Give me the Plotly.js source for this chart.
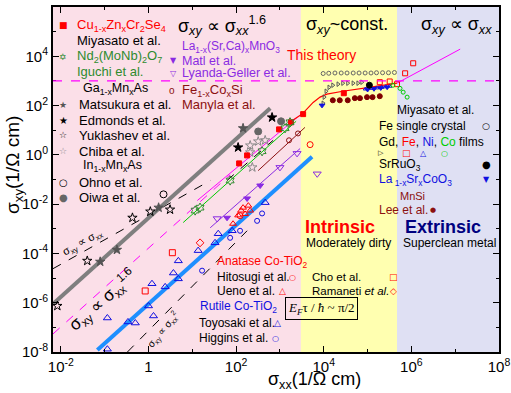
<!DOCTYPE html>
<html><head><meta charset="utf-8">
<script src="https://cdn.plot.ly/plotly-3.0.1.min.js"></script>
<style>html,body{margin:0;padding:0;background:#fff}#chart{width:511px;height:393px}</style>
</head><body><div id="chart"></div>
<script>
// ---------- axis ticks ----------
var xTickVals = [1e-2, 1, 1e2, 1e4, 1e6, 1e8];
var xTickText = ['10<sup>-2</sup>', '1', '10<sup>2</sup>', '10<sup>4</sup>', '10<sup>6</sup>', '10<sup>8</sup>'];
var yTickVals = [1e-8, 1e-6, 1e-4, 1e-2, 1, 1e2, 1e4, 1e6];
var yTickText = ['10<sup>-8</sup>', '10<sup>-6</sup>', '10<sup>-4</sup>', '10<sup>-2</sup>', '10<sup>0</sup>', '10<sup>2</sup>', '10<sup>4</sup>', '10<sup>6</sup>'];

// ---------- regime boundaries (sigma_xx) and sigma_xy guide ----------
var regimeBounds = [3.0e3, 4.7e5];
var constLevel = 1.0e3;

// ---------- data: Ga1-xMnxAs / In1-xMnxAs ----------
var yuklashevX = [8.3e-3, 0.04, 0.43, 1.1, 3.1];
var yuklashevY = [7.4e-7, 5.0e-5, 2.8e-3, 5.0e-3, 6.0e-3];
var matsukuraX = [0.079, 0.19, 1.7, 144];
var matsukuraY = [4.6e-5, 1.4e-4, 7.2e-3, 12];
var edmondsX = [661, 111];
var edmondsY = [33, 2.0];
var chibaX = [209, 319, 460, 209, 234];
var chibaY = [2.4, 3.5, 3.9, 1.26, 0.31];
var ohnoX = [2.2];
var ohnoY = [0.025];
var oiwaX = [319, 1060];
var oiwaY = [8.9, 23];

// ---------- Cu1-xZnxCr2Se4 ----------
var cuX = [117, 178, 955, 1790, 3380, 28700];
var cuY = [0.45, 0.95, 10.8, 21, 45, 317];
// ---------- Nd2(MoNb)2O7 ----------
var ndX = [11.6, 15, 73, 391, 1310, 1700];
var ndY = [0.0055, 0.0072, 0.091, 1.4, 12, 21];
// ---------- La1-x(Sr,Ca)xMnO3 ----------
var matlX = [62, 178, 354];
var matlY = [0.0028, 0.017, 0.057];
var lyandaX = [37, 1000, 2460, 7090];
var lyandaY = [0.0026, 0.31, 1.15, 0.17];
// ---------- Fe1-xCoxSi ----------
var fecosiX = [1610, 2580];
var fecosiY = [3.9, 7.4];
// ---------- Anatase / Rutile Co-TiO2 ----------
var hitosugiX = [123, 4880];
var hitosugiY = [0.0034, 2.6];
var uenoX = [85, 111, 130, 144, 160, 190, 209];
var uenoY = [0.0016, 0.0035, 0.0055, 0.0072, 0.004, 0.0087, 0.0055];
var choX = [0.84, 3.5];
var choY = [3.0e-6, 1.07e-4];
var ramanetiX = [15];
var ramanetiY = [2.7e-4];
var toyosakiX = [0.115, 0.115, 0.34, 0.5, 1, 1.3, 1.2, 2.4, 3.7, 4.8, 4.8, 13.6, 33, 39, 81, 460];
var toyosakiY = [2.4e-7, 1.3e-8, 1.66e-7, 1.5e-7, 7.4e-7, 2.9e-7, 5.9e-6, 4.4e-6, 1.6e-5, 5e-5, 9.3e-6, 1.3e-4, 2.7e-4, 6.3e-4, 8.3e-4, 0.0115];
var higginsX = [16.7, 73, 123, 301, 391];
var higginsY = [2.0e-5, 4.3e-4, 8.3e-4, 0.0021, 0.0042];
// ---------- clean metals ----------
var gdX = [9660, 10200, 11300, 13200, 16100, 21200, 27200, 35300, 46800, 60300, 74000];
var gdY = [124, 220, 380, 550, 670, 740, 810, 810, 810, 810, 890];
var feCrystalX = [9700, 1.3e4, 1.8e4, 2.5e4, 3.4e4, 4.7e4, 6.4e4, 8.8e4, 1.2e5, 1.6e5, 2.2e5, 3.0e5, 4.1e5];
var feCrystalY = [2000, 2050, 2100, 2100, 2100, 2100, 2100, 2100, 2100, 2150, 2150, 2150, 2200];
var feFilmX = [1.9e5, 3.2e5, 4.7e5, 7.2e5, 1.1e6];
var feFilmY = [890, 950, 740, 2040, 5200];
var niFilmX = [9.0e4, 1.2e5, 1.6e5, 2.1e5, 2.6e5, 3.2e5];
var niFilmY = [470, 500, 520, 550, 580, 610];
var coFilmX = [3.8e5, 5.5e5, 6.5e5, 8.0e5];
var coFilmY = [670, 500, 350, 220];
var srruoX = [1.1e5];
var srruoY = [670];
var lscoX = [9130, 1.0e5, 1.4e5, 2.0e5, 2.8e5];
var lscoY = [102, 450, 480, 520, 560];
var mnsiX = [16100, 23200, 35300, 51200, 67000, 97000, 1.3e5, 1.9e5];
var mnsiY = [164, 164, 164, 200, 200, 220, 220, 240];

// ---------- fitted / theory lines (endpoints) ----------
var grayFitX = [6.6e-3, 600];    var grayFitY = [8.9e-7, 78];
var blueFitX = [0.068, 5400];    var blueFitY = [1.2e-8, 0.83];
var greenFitX = [6.2, 2340];     var greenFitY = [1.8e-3, 23];
var magFitX = [13, 2460];        var magFitY = [0.014, 33];
var brownFitX = [319, 3720];     var brownFitY = [0.23, 13];
var purpleFitX = [25.6, 2880];   var purpleFitY = [0.0011, 1.8];
var theoryX = [1540, 3210, 5720, 8250, 11800, 27200, 1.1e5, 4.7e5];
var theoryY = [19, 45, 134, 220, 290, 380, 550, 810];
var cleanFitX = [4.7e5, 1.3e7];  var cleanFitY = [810, 1.95e4];
var dashLin1X = [6.6e-3, 25.6];  var dashLin1Y = [2.4e-5, 0.09];
var dashLin2X = [62, 700];       var dashLin2Y = [0.091, 3.9];
var dashSqX = [0.33, 178];       var dashSqY = [1e-8, 8.3e-4];
var dashMag1X = [6.6e-3, 73];    var dashMag1Y = [5.4e-8, 0.155];

var FONT = 'Liberation Sans, Arial, sans-serif';
var PURPLE = '#8a2be2', BROWN = '#8b1010', RED = '#ff0000', GREEN = '#2e8b2e', BLUE = '#1010e0';

function pts(x, y, sym, color, size, lw) {
  return {x: x, y: y, mode: 'markers', type: 'scatter', hoverinfo: 'skip',
    marker: {symbol: sym, color: color, size: size || 5, line: {color: color, width: lw === undefined ? 1 : lw}}};
}
function ln(x, y, color, width, dash) {
  return {x: x, y: y, mode: 'lines', type: 'scatter', hoverinfo: 'skip',
    line: {color: color, width: width, dash: dash || 'solid'}};
}

var traces = [
  ln(dashMag1X, dashMag1Y, '#ff00ff', 1, 'dash'),
  ln(dashLin1X, dashLin1Y, '#000', 1, 'dash'),
  ln(dashLin2X, dashLin2Y, '#000', 1, 'dash'),
  ln(dashSqX, dashSqY, '#000', 1, 'dash'),
  ln(grayFitX, grayFitY, '#7f7f7f', 4),
  ln(blueFitX, blueFitY, '#1e8fff', 4),
  ln(greenFitX, greenFitY, '#00cc00', 1),
  ln(magFitX, magFitY, '#ff00ff', 1),
  ln(brownFitX, brownFitY, BROWN, 1),
  ln(purpleFitX, purpleFitY, PURPLE, 1),
  ln(theoryX, theoryY, RED, 1.2),
  ln(cleanFitX, cleanFitY, '#ff00ff', 1),
  pts(yuklashevX, yuklashevY, 'star-open', '#000', 7),
  pts(matsukuraX, matsukuraY, 'star', '#555', 7),
  pts(edmondsX, edmondsY, 'star', '#000', 7),
  pts(chibaX, chibaY, 'star-open', '#888', 7),
  pts(ohnoX, ohnoY, 'circle-open', '#000', 7),
  pts(oiwaX, oiwaY, 'circle', '#666', 7),
  pts(cuX, cuY, 'square', RED, 5),
  pts(ndX, ndY, 'hexagram-open', GREEN, 7),
  pts(matlX, matlY, 'triangle-down', PURPLE, 6),
  pts(lyandaX, lyandaY, 'triangle-down-open', PURPLE, 7),
  pts(fecosiX, fecosiY, 'circle-open', BROWN, 5),
  pts(hitosugiX, hitosugiY, 'circle-open', RED, 6),
  pts(uenoX, uenoY, 'triangle-up-open', RED, 6),
  pts(choX, choY, 'square-open', RED, 6),
  pts(ramanetiX, ramanetiY, 'diamond-open', RED, 6),
  pts(toyosakiX, toyosakiY, 'triangle-up-open', BLUE, 7),
  pts(higginsX, higginsY, 'circle-open', BLUE, 5),
  pts(feCrystalX, feCrystalY, 'circle-open', '#666', 4),
  pts(gdX, gdY, 'triangle-right-open', '#555', 4),
  pts(niFilmX, niFilmY, 'triangle-up-open', BLUE, 4),
  pts(lscoX, lscoY, 'triangle-down', BLUE, 5),
  pts(feFilmX, feFilmY, 'square-open', RED, 5),
  pts(coFilmX, coFilmY, 'circle-open', '#00cc00', 4),
  pts(srruoX, srruoY, 'circle', '#000', 6),
  pts(mnsiX, mnsiY, 'circle', '#800000', 5)
];

function px2x(px) { return (px - 53) / 446; }
function py2y(py) { return (352 - py) / 345; }
function txt(px, py, text, opts) {
  opts = opts || {};
  return {xref: 'paper', yref: 'paper', x: px2x(px), y: py2y(py), text: text, showarrow: false,
    xanchor: opts.xa || 'left', yanchor: 'middle', textangle: opts.ang || 0,
    font: {family: opts.fam || FONT, size: opts.size || 13, color: opts.color || '#000'}};
}
var S = 'σ';
var ann = [
  // headers
  txt(222, 26, S + '<sub><i>xy</i></sub> ∝ ' + S + '<sub><i>xx</i></sub><sup>1.6</sup>', {xa: 'center', size: 18}),
  txt(347, 26, S + '<sub><i>xy</i></sub>~const.', {xa: 'center', size: 18}),
  txt(456, 26, S + '<sub><i>xy</i></sub> ∝ ' + S + '<sub><i>xx</i></sub>', {xa: 'center', size: 18}),
  // left legend
  txt(63, 25, '■', {xa: 'center', size: 9, color: RED, fam: 'DejaVu Sans'}),
  txt(75, 25, 'Cu<sub>1-x</sub>Zn<sub>x</sub>Cr<sub>2</sub>Se<sub>4</sub>', {color: RED}),
  txt(75, 41, 'Miyasato et al.'),
  txt(63, 57, '✡', {xa: 'center', size: 9, color: GREEN, fam: 'DejaVu Sans'}),
  txt(75, 57, 'Nd<sub>2</sub>(MoNb)<sub>2</sub>O<sub>7</sub>', {color: GREEN}),
  txt(75, 71, 'Iguchi et al.', {color: GREEN}),
  txt(81, 89, 'Ga<sub>1-x</sub>Mn<sub>x</sub>As', {size: 12.5}),
  txt(63, 105, '★', {xa: 'center', size: 9, color: '#555', fam: 'DejaVu Sans'}),
  txt(77, 105, 'Matsukura et al.'),
  txt(63, 120, '★', {xa: 'center', size: 10, color: '#000', fam: 'DejaVu Sans'}),
  txt(77, 120, 'Edmonds et al.'),
  txt(63, 135, '☆', {xa: 'center', size: 9, color: '#000', fam: 'DejaVu Sans'}),
  txt(77, 135, 'Yuklashev et al.'),
  txt(63, 151, '☆', {xa: 'center', size: 9, color: '#888', fam: 'DejaVu Sans'}),
  txt(77, 151, 'Chiba et al.'),
  txt(81, 166, 'In<sub>1-x</sub>Mn<sub>x</sub>As', {size: 12.5}),
  txt(63, 182, '○', {xa: 'center', size: 10, color: '#000', fam: 'DejaVu Sans'}),
  txt(77, 182, 'Ohno et al.'),
  txt(63, 197, '●', {xa: 'center', size: 10, color: '#666', fam: 'DejaVu Sans'}),
  txt(77, 197, 'Oiwa et al.'),
  // centre legend
  txt(180, 47, 'La<sub>1-x</sub>(Sr,Ca)<sub>x</sub>MnO<sub>3</sub>', {color: PURPLE, size: 12}),
  txt(173, 61, '▼', {xa: 'center', size: 8, color: PURPLE, fam: 'DejaVu Sans'}),
  txt(180, 61, 'Matl et al.', {color: PURPLE, size: 12.5}),
  txt(173, 73, '▽', {xa: 'center', size: 8, color: PURPLE, fam: 'DejaVu Sans'}),
  txt(180, 73, 'Lyanda-Geller et al.', {color: PURPLE, size: 12.5}),
  txt(172, 90, 'o', {xa: 'center', size: 10, color: BROWN}),
  txt(180, 90, 'Fe<sub>1-x</sub>Co<sub>x</sub>Si', {color: BROWN}),
  txt(180, 105, 'Manyla et al.', {color: BROWN}),
  // right legend
  txt(435, 110, 'Miyasato et al.', {xa: 'center', size: 12}),
  txt(377, 126, 'Fe single crystal', {size: 12}),
  txt(486, 126, '○', {xa: 'center', size: 9, fam: 'DejaVu Sans'}),
  txt(377, 142, 'Gd, <span style="color:#ff0000">Fe</span>, <span style="color:#1010e0">Ni</span>, <span style="color:#00cc00">Co</span> films', {size: 12}),
  txt(381, 153, '▷', {xa: 'center', size: 7, fam: 'DejaVu Sans'}),
  txt(406, 153, '□', {xa: 'center', size: 9, color: RED, fam: 'DejaVu Sans'}),
  txt(423, 153, '△', {xa: 'center', size: 8, color: BLUE, fam: 'DejaVu Sans'}),
  txt(444, 153, '○', {xa: 'center', size: 8, color: '#00cc00', fam: 'DejaVu Sans'}),
  txt(377, 165, 'SrRuO<sub>3</sub>', {size: 12}),
  txt(486, 165, '●', {xa: 'center', size: 10, fam: 'DejaVu Sans'}),
  txt(377, 180, 'La<sub> 1-x</sub>Sr<sub>x</sub>CoO<sub>3</sub>', {color: BLUE, size: 12}),
  txt(486, 180, '▼', {xa: 'center', size: 8, color: BLUE, fam: 'DejaVu Sans'}),
  txt(398, 196, 'MnSi', {color: BROWN, size: 11}),
  txt(377, 210, 'Lee et al.', {color: BROWN, size: 12}),
  txt(433, 210, '●', {xa: 'center', size: 7, color: BROWN, fam: 'DejaVu Sans'}),
  // regime labels
  txt(340, 227, '<b>Intrinsic</b>', {xa: 'center', size: 18, color: RED}),
  txt(348, 243, 'Moderately dirty', {xa: 'center', size: 12}),
  txt(443, 227, '<b>Extrinsic</b>', {xa: 'center', size: 18, color: '#000080'}),
  txt(449, 243, 'Superclean metal', {xa: 'center', size: 12}),
  // Co-TiO2 legend
  txt(215, 262, 'Anatase Co-TiO<sub>2</sub>', {color: RED, size: 12}),
  txt(215, 277, 'Hitosugi et al.', {size: 12}),
  txt(292, 277, '○', {xa: 'center', size: 8, color: RED, fam: 'DejaVu Sans'}),
  txt(215, 291, 'Ueno et al.', {size: 12}),
  txt(282, 291, '△', {xa: 'center', size: 9, color: RED, fam: 'DejaVu Sans'}),
  txt(198, 307, 'Rutile Co-TiO<sub>2</sub>', {color: BLUE, size: 12}),
  txt(197, 323, 'Toyosaki et al.', {size: 12}),
  txt(277, 323, '△', {xa: 'center', size: 9, color: BLUE, fam: 'DejaVu Sans'}),
  txt(197, 338, 'Higgins et al.', {size: 12}),
  txt(275, 338, '○', {xa: 'center', size: 8, color: BLUE, fam: 'DejaVu Sans'}),
  txt(310, 277, 'Cho et al.', {size: 11.5}),
  txt(393, 277, '□', {xa: 'center', size: 9, color: RED, fam: 'DejaVu Sans'}),
  txt(310, 291, 'Ramaneti <i>et al.</i>', {size: 11.5}),
  txt(393, 291, '◇', {xa: 'center', size: 9, color: RED, fam: 'DejaVu Sans'}),
  // rotated slope labels
  txt(82, 243, S + '<sub>xy</sub> ∝ ' + S + '<sub>xx</sub>', {xa: 'center', size: 11, ang: -29}),
  txt(102, 300, S + '<sub>xy</sub> ∝ ' + S + '<sub>xx</sub><sup>1.6</sup>', {xa: 'center', size: 17, ang: -41}),
  txt(163, 330, S + '<sub>xy</sub> ∝ ' + S + '<sub>xx</sub><sup>2</sup>', {xa: 'center', size: 10, ang: -50}),
  // This theory
  txt(321, 55, 'This theory', {xa: 'center', size: 14, color: RED}),
  {xref: 'x', yref: 'y', x: theoryX[2], y: theoryY[2], ax: -13, ay: -38, axref: 'pixel', ayref: 'pixel',
   text: '', showarrow: true, arrowhead: 2, arrowsize: 1, arrowwidth: 1, arrowcolor: '#000'},
  // E_F tau / hbar box
  {xref: 'paper', yref: 'paper', x: px2x(321), y: py2y(320), text: '<i>E<sub>F</sub></i>τ / <i>ħ</i> ~ π/2',
   showarrow: false, bordercolor: '#000', borderwidth: 1, borderpad: 2, bgcolor: 'rgba(255,255,255,0)',
   font: {family: 'Liberation Serif, serif', size: 13, color: '#000'}},
  {xref: 'x', yref: 'paper', x: regimeBounds[0], y: 0, ax: 0, ay: -21, text: '', showarrow: true,
   arrowhead: 2, arrowsize: 1, arrowwidth: 1, arrowcolor: '#000'},
  // axis titles
  txt(314, 380, S + '<sub>xx</sub>(1/Ω cm)', {xa: 'center', size: 18}),
  txt(14, 165, S + '<sub>xy</sub>(1/Ω cm)', {xa: 'center', size: 19, ang: -90})
];

var shapes = [
  {type: 'rect', xref: 'x', yref: 'paper', x0: regimeBounds[0], x1: regimeBounds[1], y0: 0, y1: 1, fillcolor: '#ffffb0', line: {width: 0}, layer: 'below'},
  {type: 'rect', xref: 'x', yref: 'paper', x0: regimeBounds[1], x1: 1e8, y0: 0, y1: 1, fillcolor: '#dfe0f3', line: {width: 0}, layer: 'below'},
  {type: 'line', xref: 'paper', yref: 'y', x0: 0, x1: 1, y0: constLevel, y1: constLevel, line: {color: '#ff00ff', width: 1.2, dash: 'dash'}}
];

var axisCommon = {type: 'log', showgrid: false, zeroline: false, showline: true, linecolor: '#000', linewidth: 2,
  mirror: 'ticks', ticks: 'inside', ticklen: 6, tickcolor: '#000', tickfont: {family: FONT, size: 15, color: '#000'},
  tickmode: 'array', minor: {ticks: 'inside', ticklen: 3, tickcolor: '#000', dtick: 1}};

var layout = {
  width: 511, height: 393, margin: {l: 53, r: 12, t: 7, b: 41},
  paper_bgcolor: '#fff', plot_bgcolor: '#fbdfe8', showlegend: false,
  font: {family: FONT, color: '#000'},
  xaxis: Object.assign({}, axisCommon, {range: [-2.18, 8], tickvals: xTickVals, ticktext: xTickText}),
  yaxis: Object.assign({}, axisCommon, {range: [-8, 6], tickvals: yTickVals, ticktext: yTickText}),
  shapes: shapes, annotations: ann
};

Plotly.newPlot('chart', traces, layout, {staticPlot: true, displayModeBar: false});
</script></body></html>
